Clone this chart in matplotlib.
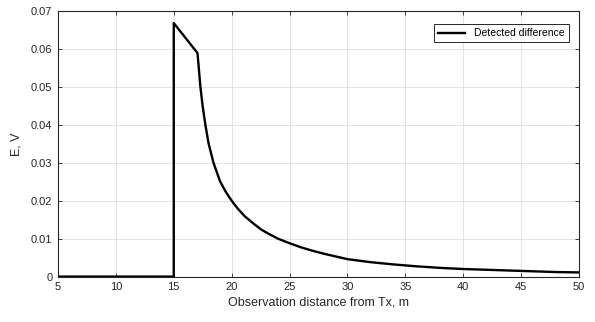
import matplotlib
matplotlib.use("Agg")
import matplotlib.pyplot as plt

# values
dist = [5, 15, 15, 17.05, 17.3, 17.5, 17.73, 18.0, 18.43, 19.0, 19.5, 20.0, 20.5,
        21.13, 22.0, 22.55, 23.3, 24.0, 25.0, 26.0, 27.0, 28.0, 29.0, 30.0, 32.0,
        34.0, 36.0, 38.0, 40.0, 42.0, 44.0, 46.0, 48.0, 50.0]
diff = [0.0, 0.0, 0.0668, 0.0589, 0.0500, 0.0448, 0.0400, 0.0352, 0.0300, 0.0251,
        0.0223, 0.0200, 0.0180, 0.0159, 0.0137, 0.0124, 0.0111, 0.0100, 0.0088,
        0.0077, 0.0068, 0.0060, 0.0053, 0.0046, 0.0038, 0.0032, 0.0027, 0.0023,
        0.0020, 0.0018, 0.0016, 0.0014, 0.0012, 0.0011]

xticks = [5, 10, 15, 20, 25, 30, 35, 40, 45, 50]
yticks = [0, 0.01, 0.02, 0.03, 0.04, 0.05, 0.06, 0.07]
ytick_labels = ["0", "0.01", "0.02", "0.03", "0.04", "0.05", "0.06", "0.07"]

plt.rcParams['font.family'] = ['Liberation Sans', 'DejaVu Sans']

fig = plt.figure(figsize=(5.95, 3.22), dpi=100)
ax = fig.add_axes([0.0975, 0.141, 0.8755, 0.825])

ax.plot(dist, diff, color='black', lw=1.7, label='Detected difference')

ax.set_xlim(5, 50)
ax.set_ylim(0, 0.07)
ax.set_xticks(xticks)
ax.set_xticklabels([str(t) for t in xticks])
ax.set_yticks(yticks)
ax.set_yticklabels(ytick_labels)

edge = (0.15, 0.15, 0.15)
for s in ax.spines.values():
    s.set_color(edge)
    s.set_linewidth(0.8)
ax.tick_params(direction='in', length=3, width=0.6, colors=edge, labelsize=8,
               top=True, right=True, pad=4)
ax.grid(True, color=(0.87, 0.87, 0.87), lw=0.6)
ax.set_axisbelow(True)

ax.set_xlabel('Observation distance from Tx, m', fontsize=9, color=edge, labelpad=3)
ax.set_ylabel('E, V', fontsize=9, color=edge, labelpad=6)

leg = ax.legend(loc='upper right', fontsize=7.5, fancybox=False, framealpha=1,
                edgecolor=edge, handlelength=2.6, borderpad=0.4,
                bbox_to_anchor=(0.99, 0.97))
leg.get_frame().set_linewidth(0.7)

fig.savefig('out.png', dpi=100)
